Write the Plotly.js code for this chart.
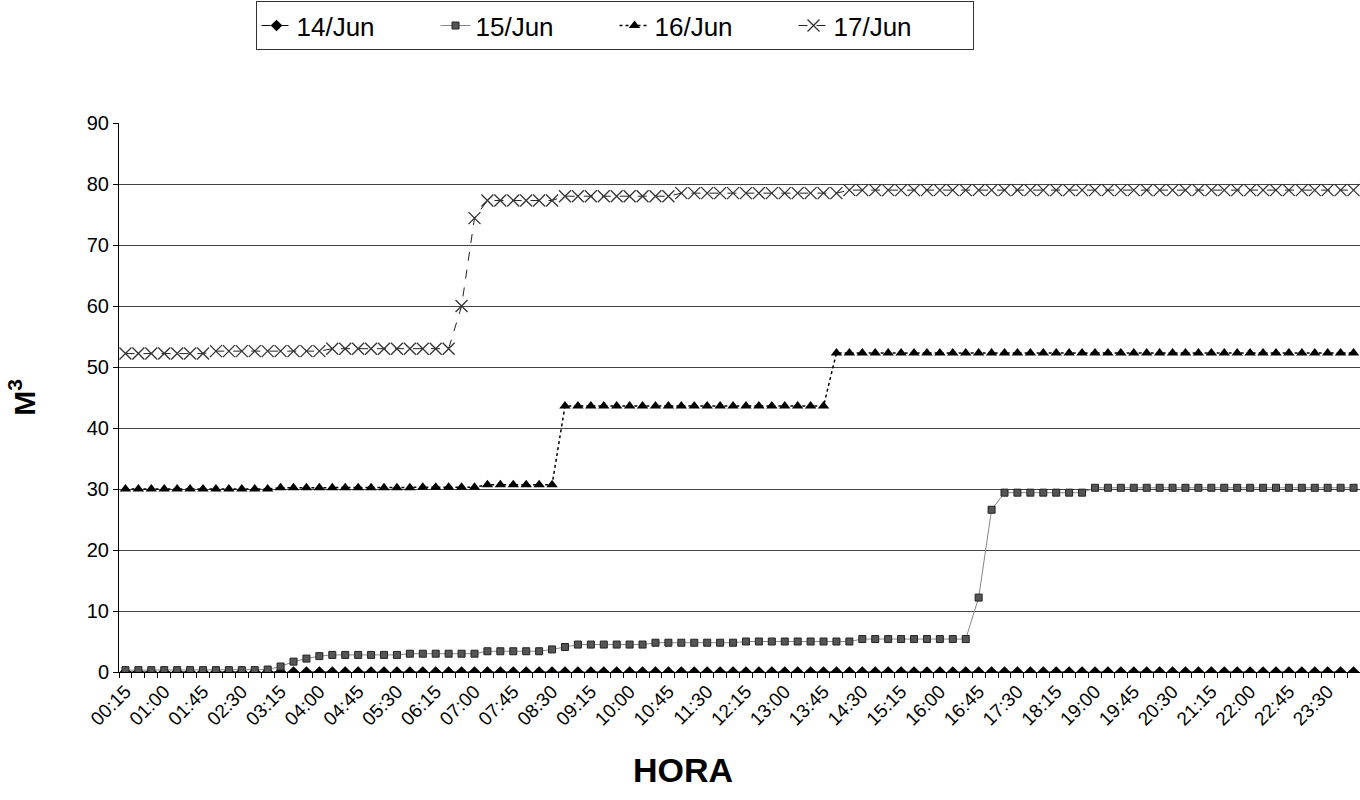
<!DOCTYPE html>
<html>
<head>
<meta charset="utf-8">
<script src="https://cdn.plot.ly/plotly-3.0.1.min.js"></script>
<style>
html,body{margin:0;padding:0;background:#fff;overflow:hidden;}
#chart{width:1360px;height:800px;}
</style>
</head>
<body>
<div id="chart"></div>
<script>
const HORAS = ["00:15","00:30","00:45","01:00","01:15","01:30","01:45","02:00","02:15","02:30","02:45","03:00",
"03:15","03:30","03:45","04:00","04:15","04:30","04:45","05:00","05:15","05:30","05:45","06:00",
"06:15","06:30","06:45","07:00","07:15","07:30","07:45","08:00","08:15","08:30","08:45","09:00",
"09:15","09:30","09:45","10:00","10:15","10:30","10:45","11:00","11:15","11:30","11:45","12:00",
"12:15","12:30","12:45","13:00","13:15","13:30","13:45","14:00","14:15","14:30","14:45","15:00",
"15:15","15:30","15:45","16:00","16:15","16:30","16:45","17:00","17:15","17:30","17:45","18:00",
"18:15","18:30","18:45","19:00","19:15","19:30","19:45","20:00","20:15","20:30","20:45","21:00",
"21:15","21:30","21:45","22:00","22:15","22:30","22:45","23:00","23:15","23:30","23:45","24:00"];

const TICK_LABELS = ["00:15","01:00","01:45","02:30","03:15","04:00","04:45","05:30","06:15","07:00","07:45","08:30",
"09:15","10:00","10:45","11:30","12:15","13:00","13:45","14:30","15:15","16:00","16:45","17:30",
"18:15","19:00","19:45","20:30","21:15","22:00","22:45","23:30"];

const JUN14 = [0,0,0,0,0,0,0,0,0,0,0,0,0,0,0,0,0,0,0,0,0,0,0,0,
0,0,0,0,0,0,0,0,0,0,0,0,0,0,0,0,0,0,0,0,0,0,0,0,
0,0,0,0,0,0,0,0,0,0,0,0,0,0,0,0,0,0,0,0,0,0,0,0,
0,0,0,0,0,0,0,0,0,0,0,0,0,0,0,0,0,0,0,0,0,0,0,0];

const JUN15 = [0.3,0.3,0.3,0.3,0.3,0.3,0.3,0.3,0.3,0.3,0.3,0.4,
0.9,1.7,2.2,2.6,2.8,2.8,2.8,2.8,2.8,2.8,3.0,3.0,
3.0,3.0,3.0,3.0,3.4,3.4,3.4,3.4,3.4,3.7,4.1,4.5,
4.5,4.5,4.5,4.5,4.5,4.8,4.8,4.8,4.8,4.8,4.8,4.8,
5.0,5.0,5.0,5.0,5.0,5.0,5.0,5.0,5.0,5.4,5.4,5.4,
5.4,5.4,5.4,5.4,5.4,5.4,12.2,26.6,29.4,29.4,29.4,29.4,
29.4,29.4,29.4,30.2,30.2,30.2,30.2,30.2,30.2,30.2,30.2,30.2,
30.2,30.2,30.2,30.2,30.2,30.2,30.2,30.2,30.2,30.2,30.2,30.2];

const JUN16 = [30.0,30.0,30.0,30.0,30.0,30.0,30.0,30.0,30.0,30.0,30.0,30.0,
30.2,30.2,30.2,30.2,30.2,30.2,30.2,30.2,30.2,30.2,30.2,30.3,
30.3,30.3,30.3,30.3,30.7,30.7,30.7,30.7,30.7,30.7,43.6,43.6,
43.6,43.6,43.6,43.6,43.6,43.6,43.6,43.6,43.6,43.6,43.6,43.6,
43.6,43.6,43.6,43.6,43.6,43.6,43.6,52.3,52.3,52.3,52.3,52.3,
52.3,52.3,52.3,52.3,52.3,52.3,52.3,52.3,52.3,52.3,52.3,52.3,
52.3,52.3,52.3,52.3,52.3,52.3,52.3,52.3,52.3,52.3,52.3,52.3,
52.3,52.3,52.3,52.3,52.3,52.3,52.3,52.3,52.3,52.3,52.3,52.3];

const JUN17 = [52.2,52.2,52.2,52.2,52.2,52.2,52.2,52.6,52.6,52.6,52.6,52.6,
52.6,52.6,52.6,52.6,53.0,53.0,53.0,53.0,53.0,53.0,53.0,53.0,
53.0,53.0,60.0,74.4,77.3,77.3,77.3,77.3,77.3,77.3,78.0,78.0,
78.0,78.0,78.0,78.0,78.0,78.0,78.0,78.5,78.5,78.5,78.5,78.5,
78.5,78.5,78.5,78.5,78.5,78.5,78.5,78.5,79.0,79.0,79.0,79.0,
79.0,79.0,79.0,79.0,79.0,79.0,79.0,79.0,79.0,79.0,79.0,79.0,
79.0,79.0,79.0,79.0,79.0,79.0,79.0,79.0,79.0,79.0,79.0,79.0,
79.0,79.0,79.0,79.0,79.0,79.0,79.0,79.0,79.0,79.0,79.0,79.0];

const SERIES_NAMES = ["14/Jun","15/Jun","16/Jun","17/Jun"];

const FONT = "Liberation Sans, Arial, sans-serif";

const traces = [
  {x: HORAS, y: JUN14, name: SERIES_NAMES[0], type: "scatter", mode: "lines+markers",
   line: {color: "#000", width: 1, dash: "dash"},
   marker: {symbol: "diamond", size: 9, color: "#000"}},
  {x: HORAS, y: JUN15, name: SERIES_NAMES[1], type: "scatter", mode: "lines+markers",
   line: {color: "#888", width: 1, dash: "solid"},
   marker: {symbol: "square", size: 7, color: "#555", line: {color: "#222", width: 1}}},
  {x: HORAS, y: JUN16, name: SERIES_NAMES[2], type: "scatter", mode: "lines+markers",
   line: {color: "#000", width: 1.5, dash: "dot"},
   marker: {symbol: "triangle-up", size: 10, color: "#000"}},
  {x: HORAS, y: JUN17, name: SERIES_NAMES[3], type: "scatter", mode: "lines+markers",
   line: {color: "#222", width: 1, dash: "dash"},
   marker: {symbol: "x-thin-open", size: 12, color: "#333", line: {color: "#333", width: 1.3}}}
];

const layout = {
  width: 1360, height: 800,
  paper_bgcolor: "#fff", plot_bgcolor: "#fff",
  margin: {l: 119, r: 0, t: 123, b: 128},
  font: {family: FONT, color: "#000"},
  showlegend: true,
  legend: {
    orientation: "h", x: 0.11, xanchor: "left", y: 1.222, yanchor: "top",
    font: {family: FONT, size: 26, color: "#000"},
    bordercolor: "#333", borderwidth: 1, bgcolor: "#fff",
    traceorder: "normal", itemwidth: 30, entrywidth: 134
  },
  xaxis: {
    type: "category", range: [-0.5, 95.5],
    tickmode: "array", tickvals: TICK_LABELS, ticktext: TICK_LABELS,
    tickangle: -45, tickfont: {family: FONT, size: 19, color: "#000"},
    ticks: "", showgrid: false, zeroline: false,
    showline: true, linecolor: "#000", linewidth: 1,
    automargin: false
  },
  xaxis2: {
    type: "linear", range: [-0.5, 95.5], overlaying: "x", anchor: "y",
    tickmode: "linear", tick0: -0.5, dtick: 1,
    ticks: "outside", ticklen: 5, tickcolor: "#000", tickwidth: 1,
    showticklabels: false, showgrid: false, zeroline: false, showline: false
  },
  yaxis: {
    range: [0, 90], tickmode: "linear", tick0: 0, dtick: 10,
    tickfont: {family: FONT, size: 20, color: "#000"},
    ticks: "outside", ticklen: 5, tickcolor: "#000",
    showgrid: true, gridcolor: "#444", gridwidth: 1,
    zeroline: false, showline: true, linecolor: "#000", linewidth: 1,
    title: {text: "<b>M<sup>3</sup></b>", font: {family: FONT, size: 30, color: "#000"}, standoff: 42},
    automargin: false
  },
  annotations: [
    {text: "<b>HORA</b>", xref: "paper", yref: "paper", x: 0.4545, y: -0.178,
     xanchor: "center", yanchor: "middle", showarrow: false,
     font: {family: FONT, size: 34, color: "#000"}}
  ]
};

const dummy = {x: [0], y: [0], xaxis: "x2", yaxis: "y", mode: "markers",
  marker: {opacity: 0}, showlegend: false, hoverinfo: "skip"};

Plotly.newPlot("chart", traces.concat([dummy]), layout, {displayModeBar: false, staticPlot: true});
</script>
</body>
</html>
